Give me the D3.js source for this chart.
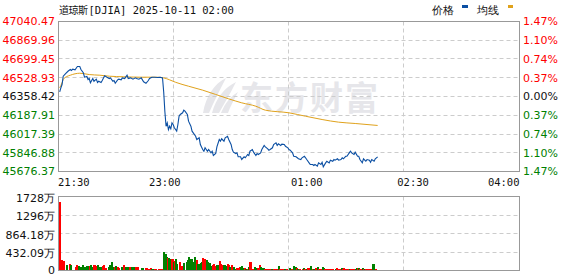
<!DOCTYPE html>
<html>
<head>
<meta charset="utf-8">
<script src="https://cdn.jsdelivr.net/npm/d3@7"></script>
<style>
  body { margin: 0; background: #fff; }
  svg { display: block; }
  text { font-family: "DejaVu Sans", sans-serif; font-size: 11px; }
</style>
</head>
<body>
<div id="chart"></div>
<script>
// minutes after 21:30 and index price
const priceMinutes = [1,2,3,4,6,8,10,11,12,14,16,18,19,21,22,24,25,26,27,29,30,32,33,34,36,37,39,41,43,44,46,47,48,50,51,53,54,56,57,58,59,61,63,65,66,68,70,72,74,76,77,79,81,84,86,88,89,90,91,92,93,94,95,96,97,98,100,101,102,103,105,106,107,109,110,112,113,114,116,117,119,120,122,123,124,126,127,129,130,131,133,134,136,137,138,140,141,143,144,146,147,148,150,151,152,154,155,157,158,160,161,162,164,165,167,168,169,171,172,174,175,177,178,179,181,182,184,185,186,188,189,191,192,194,195,196,198,199,201,202,203,205,206,208,209,210,212,213,215,216,217,219,220,222,223,224,226,227,229,230,232,233,234,236,237,239,240,241,243,244,246,247,248,250,251,253,254,255,257,258,260,261,263,264,265,267,268,270];
const prices = [46401,46437,46467,46543,46567,46588,46604,46595,46607,46601,46631,46631,46604,46574,46534,46540,46513,46522,46483,46522,46497,46516,46486,46497,46486,46504,46547,46534,46522,46528,46497,46504,46479,46510,46516,46510,46528,46522,46537,46552,46522,46528,46516,46528,46522,46516,46528,46492,46479,46504,46522,46534,46534,46531,46534,46528,46400,46220,46088,46119,46058,46088,46065,46119,46104,46074,46043,46104,46179,46195,46210,46234,46225,46195,46134,46088,46043,46028,45997,45967,45983,45922,45876,45861,45892,45861,45876,45846,45861,45822,45840,45901,45967,45952,45974,45952,45983,45997,45967,45922,45876,45852,45840,45846,45810,45810,45786,45810,45801,45831,45822,45861,45876,45852,45822,45840,45831,45846,45876,45913,45901,45883,45870,45876,45892,45922,45937,45913,45928,45913,45925,45922,45906,45892,45876,45870,45846,45815,45810,45801,45792,45785,45801,45815,45801,45785,45755,45740,45740,45731,45740,45725,45755,45740,45761,45719,45755,45770,45755,45779,45770,45785,45779,45792,45779,45785,45801,45792,45815,45815,45846,45861,45846,45831,45852,45815,45815,45785,45755,45792,45770,45785,45779,45761,45785,45770,45792,45810];

const avgMinutes = [1,3,4,7,10,14,18,21,26,35,43,55,69,83,89,94,99,110,122,133,144,155,167,175,195,209,223,237,251,270];
const avgPrices = [46437,46483,46513,46540,46552,46565,46570,46567,46558,46552,46543,46538,46534,46534,46528,46510,46488,46452,46416,46377,46337,46301,46270,46234,46210,46179,46149,46125,46113,46095];

// volume in 万, up: 1 = red, 0 = green
const volMinutes = [1,2,3,4,7,9,10,14,15,17,19,20,22,24,26,27,28,30,31,33,35,37,38,40,42,43,45,46,47,48,50,51,53,55,57,58,60,62,63,65,67,70,71,74,76,78,79,81,82,85,86,87,89,90,91,92,93,95,96,97,98,99,100,102,103,104,105,106,108,109,110,111,112,113,115,116,117,118,120,121,122,123,125,126,127,128,129,130,131,132,134,135,136,137,138,139,140,142,143,144,145,146,147,148,149,151,153,154,155,156,157,158,160,161,162,164,166,167,168,170,171,173,174,175,176,177,178,180,182,184,186,187,188,189,190,191,193,195,196,197,198,199,200,201,202,204,206,207,208,210,211,213,215,216,217,219,220,222,223,224,225,227,228,229,230,232,234,235,236,238,239,240,241,243,244,245,246,247,249,251,252,253,254,255,257,258,259,260,261,262,263,264,265,266,268];
const volumes = [1595,234,210,202,125,140,109,78,109,93,78,109,78,93,93,109,78,109,93,109,62,93,109,47,78,109,187,78,78,93,78,47,62,125,78,62,78,78,62,78,62,47,47,47,31,47,31,31,31,16,16,16,425,374,296,280,280,265,265,187,202,265,140,187,93,93,93,156,187,234,296,265,250,187,296,234,234,140,171,187,280,265,234,187,171,156,93,125,140,93,125,109,202,140,125,109,109,93,140,109,78,125,62,62,31,47,78,62,93,47,47,31,31,62,187,31,78,47,47,125,78,47,31,31,16,16,16,31,16,16,93,31,16,16,16,31,16,47,31,31,16,93,78,47,31,16,31,47,31,31,47,93,31,31,47,62,31,31,78,47,31,16,16,16,16,16,31,47,31,16,47,31,47,16,16,16,31,16,16,31,47,47,47,31,47,31,31,16,16,16,16,16,16,140,16];
const volUp = [1,1,1,1,0,1,0,1,1,0,0,0,0,0,1,0,0,1,1,0,0,1,1,1,0,0,0,0,1,0,1,1,0,1,0,0,1,0,0,1,1,0,0,1,1,1,0,1,1,1,1,1,0,0,0,1,0,0,1,0,1,0,0,1,1,1,1,0,0,0,0,0,0,0,0,0,1,0,0,0,1,1,0,0,0,0,0,1,1,1,0,0,1,1,1,1,0,0,1,1,0,1,1,0,0,1,1,0,0,0,1,0,1,0,1,1,0,0,1,1,0,0,1,1,1,1,1,0,1,1,0,1,1,1,1,0,1,0,0,1,1,0,0,1,0,1,1,0,1,0,1,0,1,0,1,0,1,1,0,0,1,1,1,1,1,1,0,1,1,1,0,1,1,1,1,1,0,1,1,0,0,1,0,1,0,1,0,1,1,1,1,1,1,0,1];

const priceTicks = [47040.47, 46869.96, 46699.45, 46528.93, 46358.42, 46187.91, 46017.39, 45846.88, 45676.37];
const pctLabels = ["1.47%", "1.10%", "0.74%", "0.37%", "0.00%", "0.37%", "0.74%", "1.10%", "1.47%"];
const volTicks = [1728.36, 1296.27, 864.18, 432.09, 0];
const volLabels = ["1728万", "1296万", "864.18万", "432.09万", "0"];
const timeMinutes = [0, 90, 210, 300, 390];
const timeLabels = ["21:30", "23:00", "01:00", "02:30", "04:00"];
const gridMinutes = [97.5, 195, 292.5];

const width = 578, height = 276;
const red = "#ff0000", green = "#008000";

const svg = d3.select("#chart").append("svg")
    .attr("width", width)
    .attr("height", height);

const x = d3.scaleLinear().domain([0, 390]).range([58.5, 519.5]);
const yP = d3.scaleLinear().domain([45676.37, 47040.47]).range([171.5, 21.5]);
const yV = d3.scaleLinear().domain([0, 1728.36]).range([270.5, 196.5]);

const snapX = v => Math.round(v) - 0.5;
const snapY = v => Math.floor(v) + 0.5;

// watermark
const wm = svg.append("g").attr("fill", "#e6e6ea");
wm.append("path")
    .attr("d", "M203,113 C206,96 214,84 226,78 C220,90 214,101 209,113 Z M212,113 C216,98 224,88 236,82 C230,94 224,104 219,113 Z M221,113 C225,103 231,96 238,92 C234,100 230,107 228,113 Z");
wm.append("text")
    .attr("x", 240)
    .attr("y", 110)
    .attr("textLength", 138)
    .style("font-family", "'Noto Sans CJK SC'")
    .style("font-weight", "bold")
    .style("font-size", "33px")
    .text("东方财富");

// panels: grid + frame
function panel(y, ticks, top, bottom) {
    const g = svg.append("g");
    g.selectAll(".hgrid")
        .data(ticks.slice(1, -1))
        .enter().append("line")
        .attr("x1", x(0)).attr("x2", x(390))
        .attr("y1", d => snapY(y(d))).attr("y2", d => snapY(y(d)))
        .attr("stroke", "#cccccc")
        .attr("stroke-dasharray", "4,3");
    g.selectAll(".vgrid")
        .data(gridMinutes)
        .enter().append("line")
        .attr("x1", d => snapX(x(d))).attr("x2", d => snapX(x(d)))
        .attr("y1", top).attr("y2", bottom)
        .attr("stroke", "#cccccc")
        .attr("stroke-dasharray", "4,3");
    g.append("rect")
        .attr("x", x(0)).attr("y", top)
        .attr("width", x(390) - x(0)).attr("height", bottom - top)
        .attr("fill", "none")
        .attr("stroke", "#999999");
}
panel(yP, priceTicks, 21.5, 171.5);
panel(yV, volTicks, 196.5, 270.5);

// volume bars
svg.append("g")
    .attr("shape-rendering", "crispEdges")
    .selectAll("rect")
    .data(volMinutes.map((m, i) => ({ m: m, v: volumes[i], up: volUp[i] })))
    .enter().append("rect")
    .attr("x", d => Math.floor(x(d.m)))
    .attr("width", d => Math.max(1, Math.floor(x(d.m + 1)) - Math.floor(x(d.m))) + 0.5)
    .attr("y", d => yV(d.v) - 0.5)
    .attr("height", d => yV(0) - yV(d.v))
    .attr("fill", d => d.up ? red : green);

// average line
svg.append("path")
    .datum(avgMinutes.map((m, i) => [m, avgPrices[i]]))
    .attr("fill", "none")
    .attr("stroke", "#e0a21c")
    .attr("stroke-width", 1)
    .attr("d", d3.line().x(d => x(d[0])).y(d => yP(d[1])).curve(d3.curveMonotoneX));

// price line
svg.append("path")
    .datum(priceMinutes.map((m, i) => [m, prices[i]]))
    .attr("fill", "none")
    .attr("stroke", "#0b4fa3")
    .attr("stroke-width", 1.1)
    .attr("d", d3.line().x(d => x(d[0])).y(d => yP(d[1])));

// left price labels
const labelColor = i => i < 4 ? red : (i === 4 ? "#111111" : green);
svg.selectAll(".plab")
    .data(priceTicks)
    .enter().append("text")
    .attr("x", 55)
    .attr("y", d => yP(d))
    .attr("dy", "0.36em")
    .attr("text-anchor", "end")
    .attr("fill", (d, i) => labelColor(i))
    .text(d => d.toFixed(2));

// right percent labels
svg.selectAll(".rlab")
    .data(pctLabels)
    .enter().append("text")
    .attr("x", 523)
    .attr("y", (d, i) => yP(priceTicks[i]))
    .attr("dy", "0.36em")
    .attr("fill", (d, i) => labelColor(i))
    .text(d => d);

// volume labels
svg.selectAll(".vlab")
    .data(volTicks)
    .enter().append("text")
    .attr("x", 55)
    .attr("y", d => d === 0 ? yV(d) - 0.5 : yV(d) + 1.5)
    .attr("dy", "0.36em")
    .attr("text-anchor", "end")
    .attr("fill", "#111111")
    .text((d, i) => volLabels[i]);

// time labels
svg.selectAll(".tlab")
    .data(timeMinutes)
    .enter().append("text")
    .attr("x", d => x(d) + (d === 0 ? -0.5 : 0))
    .attr("y", 186)
    .attr("text-anchor", (d, i) => i === 0 ? "start" : (i === timeMinutes.length - 1 ? "end" : "middle"))
    .style("font-family", "'DejaVu Sans Mono', monospace")
    .style("font-size", "10.5px")
    .attr("fill", "#111111")
    .text((d, i) => timeLabels[i]);

// title
const title = svg.append("text")
    .attr("x", 59)
    .attr("y", 14)
    .attr("fill", "#111111");
title.append("tspan")
    .style("font-family", "'Noto Sans CJK SC'")
    .style("font-size", "10px")
    .style("letter-spacing", "-0.5px")
    .text("道琼斯");
title.append("tspan")
    .attr("dx", 1)
    .style("font-family", "'DejaVu Sans Mono', monospace")
    .style("font-size", "10.5px")
    .text("[DJIA] 2025-10-11 02:00");

// legend
const legend = svg.append("g").style("font-family", "'Noto Sans CJK SC'");
legend.append("text").attr("x", 432).attr("y", 14).attr("fill", "#111111")
    .style("font-size", "11px").text("价格");
legend.append("rect").attr("x", 462).attr("y", 5).attr("width", 6).attr("height", 3).attr("fill", "#0b4fa3");
legend.append("text").attr("x", 477).attr("y", 14).attr("fill", "#111111")
    .style("font-size", "11px").text("均线");
legend.append("rect").attr("x", 508).attr("y", 5).attr("width", 5).attr("height", 3).attr("fill", "#e0a21c");
</script>
</body>
</html>
